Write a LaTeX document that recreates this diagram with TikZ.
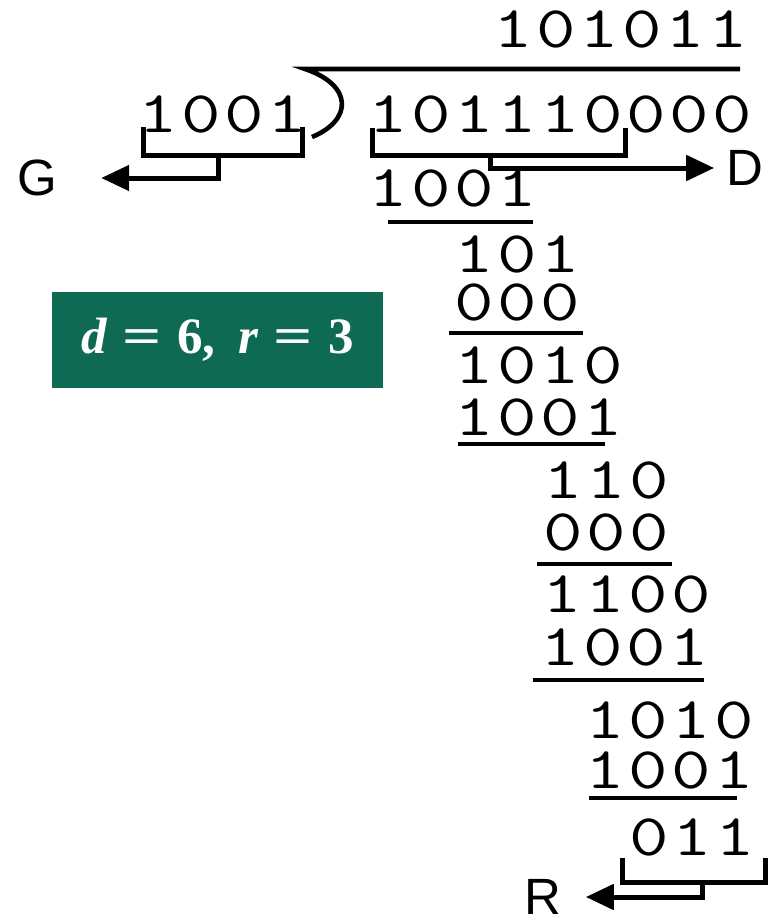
\documentclass[tikz,border=0pt]{standalone}
\usepackage{fontspec}
\usepackage{xcolor}
\usetikzlibrary{arrows.meta}

\newfontfamily\letterfont{Liberation Sans}
\newfontfamily\boxfont{Liberation Serif}
\definecolor{boxgreen}{RGB}{14,106,83}

% one digit per column, fixed pitch
\makeatletter
\newcommand{\bitrow}[1]{\@tfor\bt:=#1\do{\makebox[21.5pt]{\scalebox{1.3}[1]{\bt}}}}
\makeatother

\tikzset{
    bits/.style={anchor=base, inner sep=0pt,
        font=\fontsize{29.5}{29.5}\selectfont\ttfamily},
    letter/.style={inner sep=0pt, font=\fontsize{25.5}{25.5}\selectfont\letterfont},
    rule/.style={line width=2.3pt},
    brk/.style={line width=2.5pt},
    arr/.style={line width=2.5pt, -{Triangle[length=14pt, width=12.5pt]}},
    greenbox/.style={fill=boxgreen, text=white, inner sep=0pt,
        minimum width=165.5pt, minimum height=48pt,
        font=\fontsize{25.5}{25.5}\selectfont\boxfont\bfseries}
}

\begin{document}
\begin{tikzpicture}[x=0.5pt, y=-0.5pt]

    \useasboundingbox (0,0) rectangle (768,922);

    % Quotient, divisor and dividend
    \node[bits] (q) at (621,47) {\bitrow{101011}};
    \node[bits] (dvs) at (223,132) {\bitrow{1001}};
    \node[bits] (dvd) at (560,132) {\bitrow{101110000}};

    % Steps of the division
    \foreach \n/\x/\y/\b in {s1/452.5/206/1001, s2/517/272/101, s3/517/320/000,
            s4/538.5/383/1010, s5/538.5/435/1001, s6/606/498/110, s7/606/550/000,
            s8/627/612/1100, s9/624.5/665/1001, s10/670/738/1010,
            s11/670/788/1001, s12/692/855/011} {
        \node[bits] (\n) at (\x,\y) {\expandafter\bitrow\expandafter{\b}};
    }

    % Underlines below each subtraction
    \foreach \a/\b/\y in {388/533/222, 449/583/333, 458/605/444,
            537/672/564, 533/704/680, 589/737/798} {
        \draw[rule] (\a,\y) -- (\b,\y);
    }

    % Long division sign
    \draw[rule] (740,69) -- (305,69) .. controls (353,85) and (353,120) .. (312,137);

    % Labels
    \node[letter] (G) at (37,178) {G};
    \node[letter] (D) at (745,168) {D};
    \node[letter] (R) at (543,897) {R};

    % Brackets with arrows
    \draw[brk] (143,127) -- (143,155) -- (302,155) -- (302,127);
    \draw[arr] (218,155) |- ([xshift=22pt]G.east);
    \draw[brk] (372,128) -- (372,155) -- (625,155) -- (625,128);
    \draw[arr] (490,155) |- ([xshift=-6pt]D.west);
    \draw[brk] (622,858) -- (622,882) -- (765,882) -- (765,858);
    \draw[arr] (702,882) |- ([xshift=12pt]R.east);

    % Degree of the message and of the generator
    \node[greenbox] (dr) at (217.5,340)
        {\textit{d}\hspace{0.3em}\scalebox{1.35}[1]{=}\hspace{0.3em}6,\hspace{0.45em}\textit{r}\hspace{0.3em}\scalebox{1.35}[1]{=}\hspace{0.3em}3};

\end{tikzpicture}
\end{document}
